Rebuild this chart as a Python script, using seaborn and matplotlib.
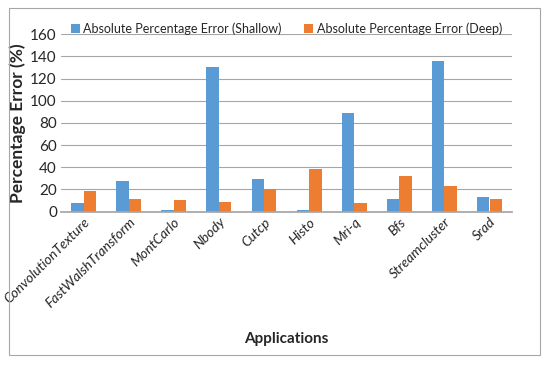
import matplotlib
matplotlib.use("Agg")
import matplotlib.pyplot as plt
import seaborn as sns
import pandas as pd
from matplotlib.patches import Rectangle

apps = ["ConvolutionTexture", "FastWalshTransform", "MontCarlo", "Nbody", "Cutcp",
        "Histo", "Mri-q", "Bfs", "Streamcluster", "Srad"]
shallow = [7.5, 27.5, 1.2, 130, 29.5, 1.2, 89, 11.7, 136, 13.5]
deep = [18.5, 11.6, 10.2, 9, 20, 38, 7.8, 31.9, 22.9, 11.4]
series = ["Absolute Percentage Error (Shallow)", "Absolute Percentage Error (Deep)"]
yticks = [0, 20, 40, 60, 80, 100, 120, 140, 160]

df = pd.DataFrame({
    "app": apps * 2,
    "series": [series[0]] * len(apps) + [series[1]] * len(apps),
    "value": shallow + deep,
})

sns.set_theme(style="white")
plt.rcParams["font.family"] = ["Lato", "DejaVu Sans"]

fig = plt.figure(figsize=(5.5, 3.68), dpi=100)
ax = fig.add_axes([0.111, 0.425, 0.82, 0.482])

sns.barplot(data=df, x="app", y="value", hue="series", hue_order=series,
            palette=["#5B9BD5", "#ED7D31"], width=0.55, saturation=1,
            edgecolor="none", ax=ax)

ax.set_ylim(0, 160)
ax.set_yticks(yticks)
ax.set_yticklabels([str(t) for t in yticks], fontsize=11)
ax.yaxis.grid(True, color="#A6A6A6", linewidth=0.8)
ax.set_axisbelow(True)
for s in ["left", "right", "top"]:
    ax.spines[s].set_visible(False)
ax.spines["bottom"].set_color("#A6A6A6")
ax.tick_params(axis="both", length=0, pad=3)
ax.set_xticks(range(len(apps)))
ax.set_xticklabels(apps, rotation=45, ha="right", rotation_mode="anchor",
                   fontsize=10, style="italic")
ax.set_xlabel("Applications", fontsize=11, fontweight="bold", labelpad=16)
ax.set_ylabel("Percentage Error (%)", fontsize=12.5, fontweight="bold", labelpad=3)

leg = ax.legend(loc="lower center", bbox_to_anchor=(0.5, 0.97), ncol=2,
                frameon=False, fontsize=9, handlelength=0.7, handleheight=0.7,
                handletextpad=0.3, columnspacing=1.8, borderaxespad=0)

fig.patches.append(Rectangle((0.016, 0.035), 0.966, 0.943, transform=fig.transFigure,
                             fill=False, edgecolor="#A6A6A6", linewidth=0.8))

fig.savefig("out.png", dpi=100)
